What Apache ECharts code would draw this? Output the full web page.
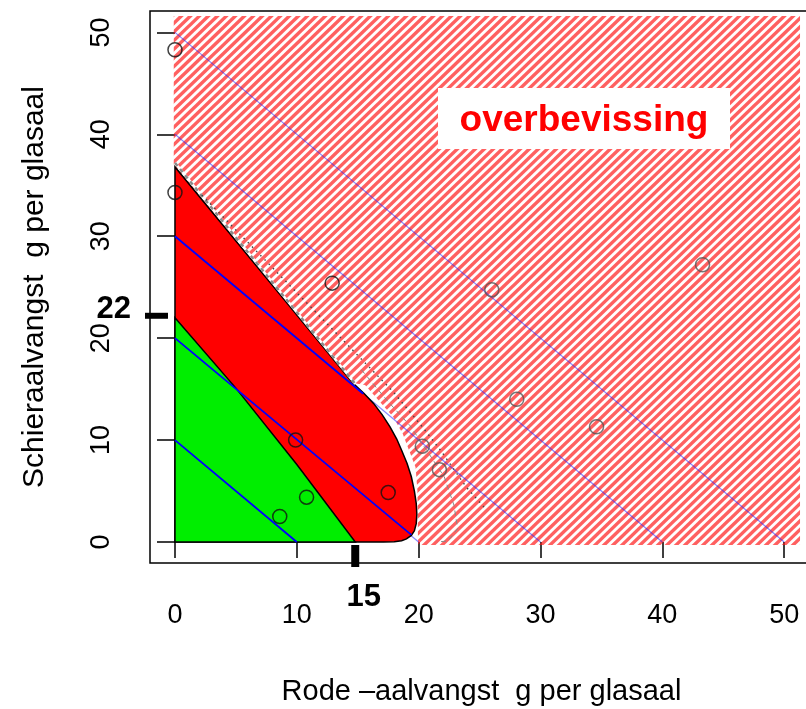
<!DOCTYPE html>
<html><head><meta charset="utf-8">
<script src="https://cdn.jsdelivr.net/npm/echarts@6/dist/echarts.min.js"></script>
<style>html,body{margin:0;padding:0;background:#fff}#c{width:806px;height:709px}</style>
</head><body><div id="c"></div>
<script>
// ---------- data ----------
const xTicks = [0, 10, 20, 30, 40, 50];
const yTicks = [0, 10, 20, 30, 40, 50];
const isoSums = [10, 20, 30, 40, 50];                 // thin blue lines x + y = k
const thickSegments = [                                // bright blue parts inside the red/green zone
  [[0, 10], [10, 0]],
  [[0, 20], [19.4, 0.7]],
  [[0, 30], [15.45, 14.55]]
];
const hatchRegion = [
  [-0.1, 51.6], [51.3, 51.6], [51.3, -0.3], [19.95, -0.3], [19.9, 5.0], [19.75, 7.3],
  [18.7, 10.6], [17.9, 12.3], [15.6, 15.4], [14.6, 15.6], [-0.1, 36.9]
];
const redRegion = [
  [0, 0], [0, 36.8], [14.6, 15.6], [15.5, 14.6], [16.3, 13.6], [17.0, 12.5], [17.65, 11.3],
  [18.2, 10.1], [18.6, 9.0], [19.05, 7.7], [19.4, 6.4], [19.65, 5.0], [19.8, 3.8], [19.85, 2.7],
  [19.8, 1.8], [19.65, 1.1], [19.4, 0.65], [19.0, 0.3], [18.6, 0.13], [18.0, 0.03], [17.1, 0]
];
const greenRegion = [[0, 0], [0, 22], [5, 15.1], [10, 7.6], [14.8, 0]];
const boundaryDashed = [[0, 37.2], [14.8, 15.5]];
const dottedLine = [[2.2, 34.05], [17.9, 14.75], [20.3, 11.3], [21.8, 9.0], [23.9, 5.4], [25.6, 3.1]];
const dashedLine = [[15.3, 16.9], [17.4, 13.9], [19.3, 11.4], [20.6, 9.1], [22.1, 6.4], [22.9, 3.6], [23.2, 1.3], [22.4, 0.1], [21.5, 0]];
const pointsInside = [[0, 34.3], [9.9, 10.0], [10.8, 4.4], [8.6, 2.5], [17.5, 4.85], [0, 48.3], [12.9, 25.4]];
const pointsOutside = [[26.0, 24.75], [43.3, 27.2], [28.05, 14.0], [34.6, 11.3], [20.3, 9.4], [21.7, 7.1]];
const markX = 15, markY = 22;
const markXLabel = '15', markYLabel = '22';
const regionLabel = 'overbevissing';
const xName = 'Rode \u2013aalvangst  g per glasaal';
const yName = 'Schieraalvangst  g per glasaal';

// ---------- styling helpers ----------
const FONT = '"Liberation Sans", Arial, Helvetica, sans-serif';

function makeHatch() {
  const w = 27, h = 26, step = 9;
  const c = document.createElement('canvas');
  c.width = w; c.height = h;
  const g = c.getContext('2d');
  g.strokeStyle = 'rgba(255,20,20,0.68)';
  g.lineWidth = 3.4;
  for (let s = -2 * w; s <= 2 * w; s += step) {
    g.beginPath();
    g.moveTo(s - w * 0.5, h * 1.5);
    g.lineTo(s + w * 1.5, -h * 0.5);
    g.stroke();
  }
  return c;
}
const hatchFill = { image: makeHatch(), repeat: 'repeat' };

function polygonSeries(pts, style, z) {
  return {
    type: 'custom', z: z, silent: true, clip: false, data: pts,
    renderItem: (params, api) => params.dataIndex === 0 ? {
      type: 'polygon', shape: { points: pts.map(p => api.coord(p)) }, style: style
    } : null
  };
}
function polylineSeries(lines, style, z) {
  return {
    type: 'custom', z: z, silent: true, clip: false, data: lines.map((l, i) => [i, i]),
    renderItem: (params, api) => ({
      type: 'polyline', shape: { points: lines[params.dataIndex].map(p => api.coord(p)) },
      style: Object.assign({ fill: null }, style)
    })
  };
}

const isoLines = isoSums.map(k => [[0, k], [k, 0]]);

const chart = echarts.init(document.getElementById('c'), null, { renderer: 'canvas' });
chart.setOption({
  animation: false,
  backgroundColor: '#fff',
  grid: { left: 150, top: 11, width: 675, height: 552, outerBoundsMode: 'none', containLabel: false,
          show: true, borderColor: '#000', borderWidth: 1.5, backgroundColor: 'transparent' },
  xAxis: {
    type: 'value', min: -2.05, max: 53.35, offset: 3,
    axisLine: { show: false }, splitLine: { show: false },
    axisTick: { show: true, customValues: xTicks, length: 16, lineStyle: { color: '#000', width: 1.5 } },
    axisLabel: { customValues: xTicks, fontSize: 27, color: '#000', margin: 36, fontFamily: FONT },
    name: xName, nameLocation: 'middle', nameGap: 111,
    nameTextStyle: { fontSize: 29, color: '#000', fontFamily: FONT, padding: [0, 12, 0, 0] }
  },
  yAxis: {
    type: 'value', min: -2.06, max: 52.1,
    axisLine: { show: false }, splitLine: { show: false },
    axisTick: { show: true, customValues: yTicks, length: 18, lineStyle: { color: '#000', width: 1.5 } },
    axisLabel: { customValues: yTicks, fontSize: 27, color: '#000', margin: 35, rotate: 90, fontFamily: FONT },
    name: yName, nameLocation: 'middle', nameGap: 100,
    nameTextStyle: { fontSize: 30, color: '#000', fontFamily: FONT }
  },
  series: [
    polygonSeries(hatchRegion, { fill: hatchFill }, 1),
    polylineSeries(isoLines, { stroke: 'rgba(40,40,255,0.55)', lineWidth: 1.2 }, 2),
    polygonSeries(redRegion, { fill: '#ff0000', stroke: '#000', lineWidth: 1.5 }, 3),
    polygonSeries(greenRegion, { fill: '#00ee00', stroke: '#000', lineWidth: 1.5 }, 4),
    polylineSeries(thickSegments, { stroke: '#0000ff', lineWidth: 1.8 }, 5),
    polylineSeries([boundaryDashed], { stroke: '#ffffff', lineWidth: 2.5 }, 6),
    polylineSeries([boundaryDashed], { stroke: '#8a8a8a', lineWidth: 2.5, lineDash: [4, 4] }, 7),
    polylineSeries([dottedLine], { stroke: '#444', lineWidth: 1.4, lineDash: [1.5, 4.5] }, 7),
    polylineSeries([dashedLine], { stroke: '#888', lineWidth: 1, lineDash: [5, 4] }, 7),
    {
      type: 'scatter', z: 8, silent: true, data: pointsInside, symbol: 'circle', symbolSize: 14,
      itemStyle: { color: 'rgba(0,0,0,0)', borderColor: '#111', borderWidth: 1.5 }
    },
    {
      type: 'scatter', z: 8, silent: true, data: pointsOutside, symbol: 'circle', symbolSize: 14,
      itemStyle: { color: 'rgba(0,0,0,0)', borderColor: '#555', borderWidth: 1.5 }
    },
    {
      type: 'custom', z: 10, silent: true, clip: false, data: [[0, markY]],
      renderItem: (params, api) => {
        const p = api.coord([0, markY]);
        return { type: 'group', children: [
          { type: 'line', shape: { x1: p[0] - 30, y1: p[1] - 2, x2: p[0] - 7, y2: p[1] - 2 }, style: { stroke: '#000', lineWidth: 6 } },
          { type: 'text', x: p[0] - 44, y: p[1] - 8, style: { text: markYLabel, fill: '#000', font: 'bold 31px ' + FONT, align: 'right', verticalAlign: 'middle' } }
        ] };
      }
    },
    {
      type: 'custom', z: 10, silent: true, clip: false, data: [[markX, 0]],
      renderItem: (params, api) => {
        const p = api.coord([markX, 0]);
        return { type: 'group', children: [
          { type: 'line', shape: { x1: p[0] - 2.5, y1: p[1] + 3, x2: p[0] - 2.5, y2: p[1] + 25 }, style: { stroke: '#000', lineWidth: 8 } },
          { type: 'text', x: p[0] + 6, y: p[1] + 55, style: { text: markXLabel, fill: '#000', font: 'bold 31px ' + FONT, align: 'center', verticalAlign: 'middle' } }
        ] };
      }
    }
  ],
  graphic: [
    { type: 'rect', z: 20, shape: { x: 438, y: 88, width: 292, height: 61 }, style: { fill: '#fff' } },
    { type: 'text', z: 21, x: 584, y: 121, style: { text: regionLabel, fill: '#ff0000', font: 'bold 37px ' + FONT, align: 'center', verticalAlign: 'middle' } }
  ]
});
</script></body></html>
